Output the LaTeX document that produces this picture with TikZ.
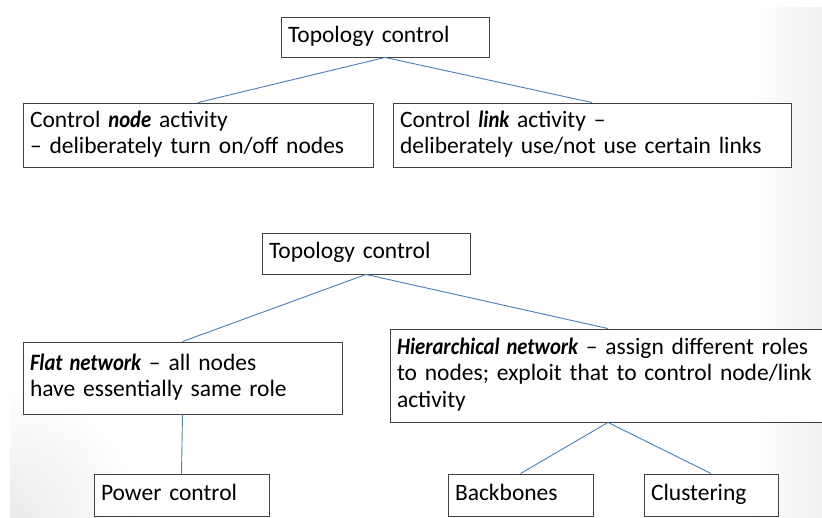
\documentclass[tikz,border=0pt]{standalone}
\usepackage{fontspec}
\usepackage{graphicx}
\setmainfont{Carlito}
\definecolor{linkblue}{RGB}{74,126,187}
\definecolor{boxgray}{RGB}{64,64,64}
\newcommand{\bitext}[1]{\scalebox{0.88}[1]{\bfseries\itshape #1}}
\begin{document}
\begin{tikzpicture}[x=1pt,y=-1pt,
  box/.style={draw=boxgray, line width=0.9pt, fill=white, inner xsep=7pt, inner ysep=0pt,
    align=left, font=\fontsize{23.5}{26.5}\selectfont, anchor=center,
    execute at begin node=\strut, execute at end node=\strut},
  link/.style={draw=linkblue, line width=0.9pt}]
\useasboundingbox (0,0) rectangle (822,518);
\clip (0,0) rectangle (822,518);
% subtle background shading
\shade[left color=white, right color=black!6] (755,8) rectangle (822,518);
\begin{scope}
  \clip (10,380) rectangle (200,518);
  \shade[inner color=black!8, outer color=white] (10,518) circle (130);
\end{scope}
% top tree
\node[box, minimum width=208pt, minimum height=40pt, text width=194pt] (t1) at (385,37) {Topology control};
\node[box, minimum width=350pt, minimum height=64pt, text width=336pt] (na) at (198,135)
  {\mbox{Control \bitext{node} activity}\\\mbox{– deliberately turn on/off nodes}};
\node[box, minimum width=398pt, minimum height=64pt, text width=384pt] (la) at (592,135)
  {\mbox{Control \bitext{link} activity –}\\\mbox{deliberately use/not use certain links}};
% bottom tree
\node[box, minimum width=208pt, minimum height=41pt, text width=194pt] (t2) at (366,253.5) {Topology control};
\node[box, minimum width=319pt, minimum height=72pt, text width=305pt] (flat) at (182.5,378)
  {\mbox{\bitext{Flat network} – all nodes}\\\mbox{have essentially same role}};
\node[box, minimum width=436pt, minimum height=93pt, text width=422pt] (hier) at (608,375.5)
  {\mbox{\bitext{Hierarchical network} – assign different roles}\\\mbox{to nodes; exploit that to control node/link}\\activity};
\node[box, minimum width=175pt, minimum height=42pt, text width=161pt] (pc) at (181.5,495) {Power control};
\node[box, minimum width=145pt, minimum height=42pt, text width=131pt] (bb) at (520.5,495) {Backbones};
\node[box, minimum width=134pt, minimum height=42pt, text width=120pt] (cl) at (711,495) {Clustering};
% connectors
\draw[link] (t1.south) -- (na.north);
\draw[link] (t1.south) -- (la.north);
\draw[link] (t2.south) -- (flat.north);
\draw[link] (t2.south) -- (hier.north);
\draw[link] (flat.south) -- (pc.north);
\draw[link] (hier.south) -- (bb.north);
\draw[link] (hier.south) -- (cl.north);
\end{tikzpicture}
\end{document}
